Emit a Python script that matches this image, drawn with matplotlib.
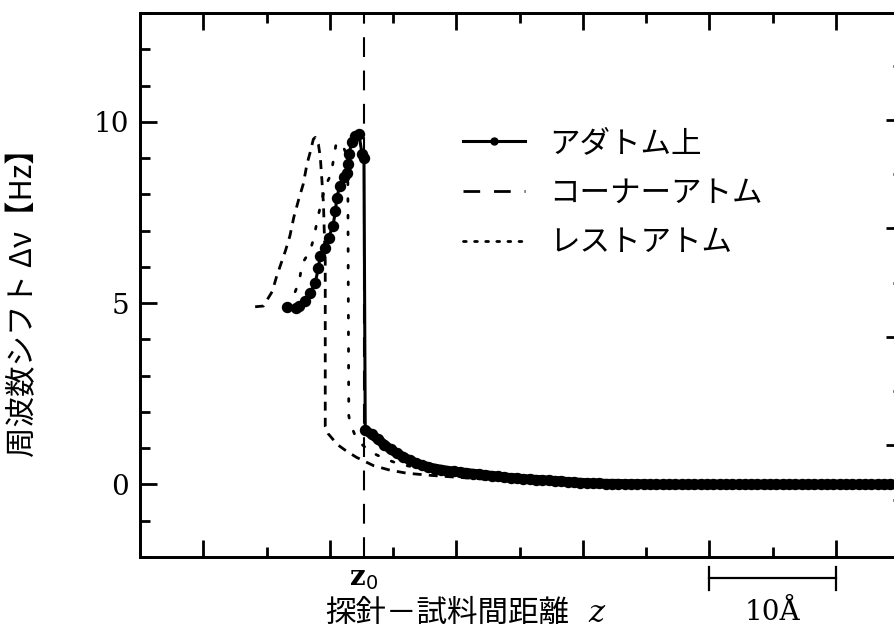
import numpy as np
import matplotlib
matplotlib.use("Agg")
import matplotlib.pyplot as plt
from matplotlib.lines import Line2D
from matplotlib.font_manager import FontProperties
import matplotlib.transforms as mtransforms

plt.rcParams['font.family'] = ['Noto Sans CJK JP', 'DejaVu Sans']
plt.rcParams['mathtext.fontset'] = 'dejavuserif'

# ---- data: tip-sample distance z [Å] vs frequency shift Δν [Hz] ----
z0 = 12.7

# on top of an adatom (rising branch, jump, decaying tail)
z_adatom_head = [6.6, 7.3, 7.55, 8.05, 8.45, 8.85, 9.1, 9.25, 9.65, 9.9, 10.25,
                 10.45, 10.55, 10.8, 11.15, 11.35, 11.4, 11.5, 11.75, 12.0, 12.3,
                 12.55, 12.7]
dv_adatom_head = [4.90, 4.87, 4.91, 5.05, 5.29, 5.56, 5.98, 6.31, 6.53, 6.80, 7.13,
                  7.55, 7.91, 8.24, 8.47, 8.60, 8.84, 9.12, 9.43, 9.61, 9.66,
                  9.11, 9.01]
z_adatom_tail = np.arange(12.8, 55.31, 0.5)
dv_adatom_tail = [1.50, 1.38, 1.25, 1.10, 0.97, 0.86, 0.76, 0.67, 0.59, 0.53,
                  0.48, 0.44, 0.41, 0.38, 0.36, 0.34, 0.32, 0.30, 0.28, 0.26,
                  0.24, 0.22, 0.20, 0.18, 0.17, 0.15, 0.14, 0.13, 0.12, 0.11,
                  0.10, 0.09, 0.07, 0.06, 0.05, 0.04, 0.03, 0.03, 0.02, 0.02,
                  0.02, 0.01, 0.01, 0.01, 0.01,
                  0.0, 0.0, 0.0, 0.0, 0.0, 0.0, 0.0, 0.0, 0.0, 0.0,
                  0.0, 0.0, 0.0, 0.0, 0.0, 0.0, 0.0, 0.0, 0.0, 0.0,
                  0.0, 0.0, 0.0, 0.0, 0.0, 0.0, 0.0, 0.0, 0.0, 0.0,
                  0.0, 0.0, 0.0, 0.0, 0.0, 0.0, 0.0, 0.0, 0.0, 0.0, 0.0]

# corner atom
z_corner = [4.1, 4.75, 5.45, 5.8, 6.5, 6.85, 7.15, 7.55, 7.9, 8.2, 8.45, 8.7,
            8.85, 9.1, 9.25, 9.38, 9.5, 9.56, 9.64, 9.64, 9.87, 10.6, 11.2,
            12.1, 13.45, 14.8, 16.1, 18.0, 20.0, 23.0, 26.0, 30.0, 35.0, 55.3]
dv_corner = [4.90, 4.92, 5.32, 5.74, 6.45, 6.86, 7.36, 7.87, 8.28, 8.84, 9.16,
             9.52, 9.57, 9.38, 9.02, 8.37, 7.73, 7.00, 6.17, 1.60, 1.40, 1.10,
             0.95, 0.75, 0.52, 0.39, 0.31, 0.25, 0.20, 0.13, 0.08, 0.03, 0.0, 0.0]

# rest atom
z_rest = [6.7, 7.15, 7.6, 7.8, 8.45, 8.75, 9.0, 9.4, 9.75, 10.1, 10.3, 10.5,
          10.95, 11.2, 11.42, 11.5, 11.6, 12.0, 12.55, 13.2, 14.4, 15.6, 17.1,
          20.0, 25.0, 30.0, 35.0, 55.3]
dv_rest = [4.90, 5.21, 5.62, 6.08, 6.45, 6.81, 7.27, 7.90, 8.30, 8.56, 8.97,
           9.40, 9.40, 9.20, 8.90, 1.90, 1.70, 1.35, 1.10, 0.90, 0.70, 0.55,
           0.45, 0.32, 0.16, 0.04, 0.0, 0.0]

labels = ['アダトム上', 'コーナーアトム', 'レストアトム']
y_ticks = [0, 5, 10]
y_ticklabels = ['0', '5', '10']
scalebar = (40, 50)
scalebar_label = '10Å'

# ---- figure ----
W, H = 894, 634
fig = plt.figure(figsize=(W / 100, H / 100), dpi=100)
ax = fig.add_axes([140 / W, 77 / H, 763 / W, 544 / H])
ax.set_xlim(-5, 55.3)
ax.set_ylim(-2, 13)

ax.plot(z_corner, dv_corner, color='black', lw=2.0,
        linestyle=(0, (3.2, 2.6)), zorder=2)
ax.plot(z_rest, dv_rest, color='black', lw=2.0,
        linestyle=(0, (1, 5)), dash_capstyle='round', zorder=2)
z_adatom = list(z_adatom_head) + list(z_adatom_tail)
dv_adatom = list(dv_adatom_head) + list(dv_adatom_tail)
ax.plot(z_adatom, dv_adatom, color='black', lw=2.2, marker='o',
        markersize=7.2, zorder=3)
# densely sampled tail merges into a continuous heavy band
ax.plot(z_adatom_tail, dv_adatom_tail, color='black', lw=7.0,
        solid_capstyle='round', solid_joinstyle='round', zorder=3)

ax.axvline(z0, color='black', lw=1.5, linestyle=(0, (9.5, 6.5)), zorder=1)

# ticks and frame
ax.set_xticks([0, 10, 20, 30, 40, 50])
ax.set_xticks([5, 15, 25, 35, 45, 55], minor=True)
ax.set_yticks(y_ticks)
ax.set_yticks(np.arange(-2, 14, 1), minor=True)
ax.set_yticklabels(y_ticklabels, fontfamily='DejaVu Serif', fontsize=20)
ax.tick_params(which='both', direction='in', top=True, right=False,
               labelbottom=False, width=2)
ax.tick_params(which='major', length=12.5)
ax.tick_params(which='minor', length=7)
ax.tick_params(axis='y', pad=8)
for s in ax.spines.values():
    s.set_linewidth(2)

ax2 = ax.twinx()
ax2.set_ylim(-0.028, 4.986)
ax2.set_yticks([1, 2, 3, 4])
ax2.set_yticks([0.5, 1.5, 2.5, 3.5, 4.5], minor=True)
ax2.tick_params(which='both', direction='in', labelright=False, width=2)
ax2.tick_params(which='major', length=12.5)
ax2.tick_params(which='minor', length=7)
for s in ax2.spines.values():
    s.set_linewidth(2)

# legend
handles = [
    Line2D([], [], color='black', lw=2.2, marker='o', markersize=5),
    Line2D([], [], color='black', lw=2.0, linestyle=(0, (6, 5))),
    Line2D([], [], color='black', lw=2.0, linestyle=(0, (1, 3)),
           dash_capstyle='round'),
]
ax.legend(handles, labels, loc='upper left',
          bbox_to_anchor=(463 / W, 1 - 128 / H), bbox_transform=fig.transFigure,
          frameon=False, prop=FontProperties(family=['Noto Sans CJK JP'], size=22),
          handlelength=2.03, handletextpad=0.78, labelspacing=0.61,
          borderpad=0, borderaxespad=0)

# axis labels
fig.text(24 / W, 1 - 295 / H, '周波数シフト Δν【Hz】', rotation=90,
         ha='center', va='center', fontsize=22,
         family=['Noto Sans CJK JP', 'DejaVu Sans'])
fig.text(325 / W, 1 - 613 / H, '探針－試料間距離', ha='left', va='center',
         fontsize=22, family=['Noto Sans CJK JP', 'DejaVu Sans'])
fig.text(588 / W, 1 - 613 / H, 'z', ha='left', va='center', fontsize=22,
         family='DejaVu Serif', style='italic')

# z0 marker below the axis
trans = mtransforms.blended_transform_factory(ax.transData, fig.transFigure)
ax.text(z0, 1 - 577 / H, r'$\mathbf{z}_{\mathsf{0}}$', transform=trans,
        ha='center', va='center', fontsize=20)

# scale bar
ax.plot([scalebar[0], scalebar[1]], [1 - 578 / H] * 2, transform=trans,
        color='black', lw=1.6, clip_on=False)
for xb in scalebar:
    ax.plot([xb, xb], [1 - 567 / H, 1 - 590 / H], transform=trans,
            color='black', lw=1.6, clip_on=False)
ax.text(sum(scalebar) / 2, 1 - 613 / H, scalebar_label, transform=trans,
        ha='center', va='center', fontsize=20, family='DejaVu Serif')

fig.savefig('out.png', dpi=100)
